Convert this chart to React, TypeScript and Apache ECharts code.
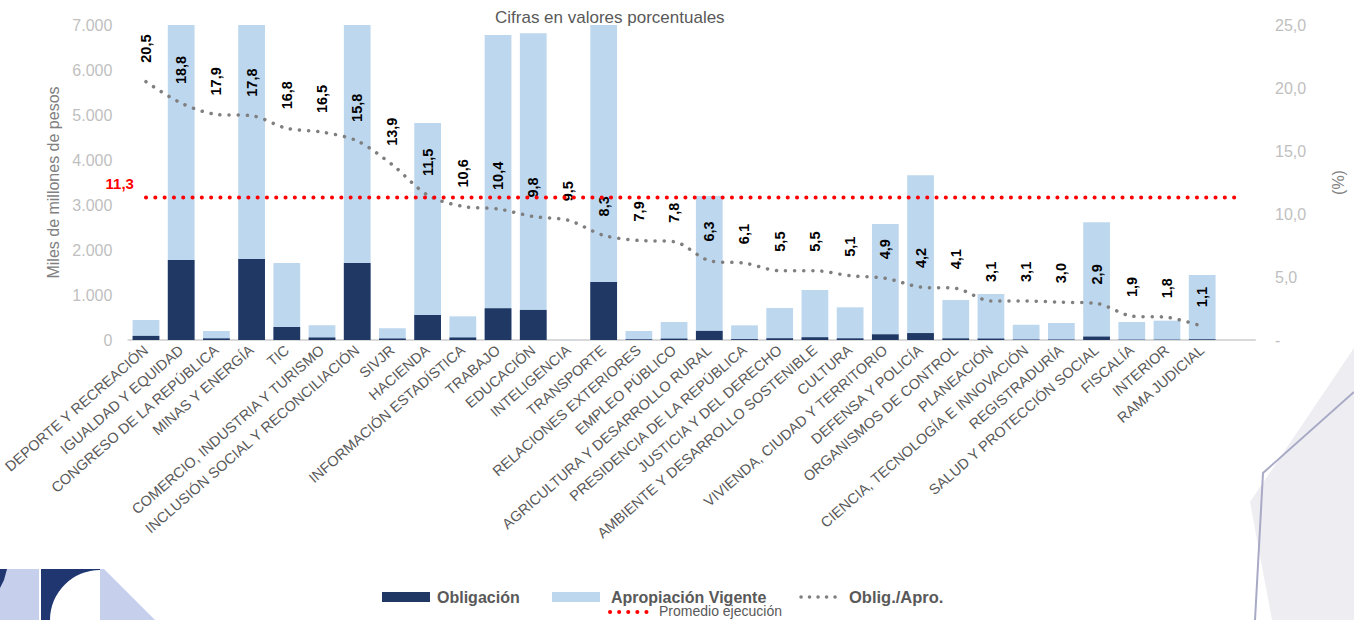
import React, { useEffect, useRef } from 'react';
import * as echarts from 'echarts';

const categories = [
  'DEPORTE Y RECREACIÓN', 'IGUALDAD Y EQUIDAD', 'CONGRESO DE LA REPÚBLICA', 'MINAS Y ENERGÍA', 'TIC',
  'COMERCIO, INDUSTRIA Y TURISMO', 'INCLUSIÓN SOCIAL Y RECONCILIACIÓN', 'SIVJR', 'HACIENDA',
  'INFORMACIÓN ESTADÍSTICA', 'TRABAJO', 'EDUCACIÓN', 'INTELIGENCIA', 'TRANSPORTE',
  'RELACIONES EXTERIORES', 'EMPLEO PÚBLICO', 'AGRICULTURA Y DESARROLLO RURAL',
  'PRESIDENCIA DE LA REPÚBLICA', 'JUSTICIA Y DEL DERECHO', 'AMBIENTE Y DESARROLLO SOSTENIBLE',
  'CULTURA', 'VIVIENDA, CIUDAD Y TERRITORIO', 'DEFENSA Y POLICÍA', 'ORGANISMOS DE CONTROL',
  'PLANEACIÓN', 'CIENCIA, TECNOLOGÍA E INNOVACIÓN', 'REGISTRADURÍA', 'SALUD Y PROTECCIÓN SOCIAL',
  'FISCALÍA', 'INTERIOR', 'RAMA JUDICIAL', '',
];

const apropiacion = [
  444, 9460, 200, 10110, 1711, 326, 10830, 259, 4822, 526, 6778, 6815, 5, 15530, 200, 400,
  3200, 326, 711, 1111, 726, 2578, 3659, 889, 1022, 341, 378, 2615, 400, 430, 1444,
];

const obligacion = [
  91, 1778, 36, 1800, 288, 54, 1711, 36, 555, 56, 705, 668, 0.5, 1289, 16, 31,
  202, 20, 39, 61, 37, 126, 154, 36, 32, 11, 11, 76, 8, 8, 16,
];

const ejecucion = [
  20.5, 18.8, 17.9, 17.8, 16.8, 16.5, 15.8, 13.9, 11.5, 10.6, 10.4, 9.8, 9.5, 8.3, 7.9, 7.8,
  6.3, 6.1, 5.5, 5.5, 5.1, 4.9, 4.2, 4.1, 3.1, 3.1, 3.0, 2.9, 1.9, 1.8, 1.1,
];

const promedio = 11.3;

const seriesNames = ['Obligación', 'Apropiación Vigente', 'Oblig./Apro.', 'Promedio ejecución'];

const NAVY = '#203864';
const LIGHT = '#bdd7ee';
const GRAY_LINE = '#7f7f7f';
const RED = '#ff0000';
const FONT = 'Liberation Sans, Arial, sans-serif';
const fmtPct = (v: number) => v.toFixed(1).replace('.', ',');
const fmtThousands = (v: number) => String(v).replace(/\B(?=(\d{3})+(?!\d))/g, '.');

export default function App() {
  const ref = useRef<HTMLDivElement>(null);

  useEffect(() => {
    const chart = echarts.init(ref.current!, null, { renderer: 'svg' });

    const promedioData = categories.map((_, i) =>
      i === 0
        ? {
            value: promedio,
            label: {
              show: true,
              position: 'left',
              distance: 11,
              offset: [0, -14],
              formatter: fmtPct(promedio),
              color: RED,
              fontWeight: 'bold',
              fontSize: 15,
              fontFamily: FONT,
            },
          }
        : promedio
    );

    const legendText = (text: string, x: number, y: number, bold: boolean, size: number) => ({
      type: 'text',
      x,
      y,
      silent: true,
      style: {
        text,
        fill: '#595959',
        fontSize: size,
        fontWeight: bold ? 'bold' : 'normal',
        fontFamily: FONT,
        verticalAlign: 'middle',
        align: 'left',
      },
    });

    const option: any = {
      animation: false,
      backgroundColor: '#ffffff',
      textStyle: { fontFamily: FONT },
      title: {
        text: 'Cifras en valores porcentuales',
        left: 490,
        top: 4,
        textStyle: { fontSize: 17, fontWeight: 'normal', color: '#595959', fontFamily: FONT },
      },
      grid: { left: 127, right: 84, top: 25, bottom: 280 },
      xAxis: {
        type: 'category',
        data: categories,
        axisLine: { lineStyle: { color: '#d9d9d9', width: 2 } },
        axisTick: { show: false },
        axisLabel: {
          interval: 0,
          rotate: 41,
          fontSize: 14.5,
          color: '#595959',
          margin: 8,
          fontFamily: FONT,
        },
      },
      yAxis: [
        {
          type: 'value',
          min: 0,
          max: 7000,
          interval: 1000,
          splitLine: { show: false },
          axisLine: { show: false },
          axisTick: { show: false },
          axisLabel: {
            formatter: (v: number) => fmtThousands(v),
            color: '#bfbfbf',
            fontSize: 16,
            margin: 16,
            fontFamily: FONT,
          },
          name: 'Miles de millones de pesos',
          nameLocation: 'middle',
          nameGap: 65,
          nameTextStyle: { color: '#808080', fontSize: 16, fontFamily: FONT },
        },
        {
          type: 'value',
          position: 'right',
          min: 0,
          max: 25,
          interval: 5,
          splitLine: { show: false },
          axisLine: { show: false },
          axisTick: { show: false },
          axisLabel: {
            formatter: (v: number) => (v === 0 ? '-' : fmtPct(v)),
            color: '#bfbfbf',
            fontSize: 16,
            margin: 20,
            fontFamily: FONT,
          },
          name: '(%)',
          nameLocation: 'middle',
          nameGap: 75,
          nameTextStyle: { color: '#808080', fontSize: 16, fontFamily: FONT },
        },
      ],
      series: [
        {
          name: seriesNames[1],
          type: 'bar',
          data: apropiacion,
          barCategoryGap: '24%',
          barGap: '-100%',
          clip: true,
          itemStyle: { color: LIGHT },
          emphasis: { disabled: true },
        },
        {
          name: seriesNames[0],
          type: 'bar',
          data: obligacion,
          barCategoryGap: '24%',
          barGap: '-100%',
          clip: true,
          itemStyle: { color: NAVY },
          emphasis: { disabled: true },
        },
        {
          name: seriesNames[2],
          type: 'line',
          yAxisIndex: 1,
          data: ejecucion,
          smooth: 0.3,
          symbol: 'circle',
          symbolSize: 2,
          itemStyle: { color: 'rgba(0,0,0,0)' },
          lineStyle: { color: GRAY_LINE, width: 3.5, type: [0.1, 9], cap: 'round' },
          label: {
            show: true,
            position: 'top',
            rotate: 90,
            align: 'left',
            verticalAlign: 'middle',
            distance: 18,
            formatter: (p: any) => fmtPct(p.value),
            color: '#000000',
            fontWeight: 'bold',
            fontSize: 14.5,
            fontFamily: FONT,
          },
          emphasis: { disabled: true },
          z: 5,
        },
        {
          name: seriesNames[3],
          type: 'line',
          yAxisIndex: 1,
          data: promedioData,
          symbol: 'circle',
          symbolSize: 2,
          itemStyle: { color: 'rgba(0,0,0,0)' },
          lineStyle: { color: RED, width: 4, type: [0.1, 9.2], cap: 'round' },
          emphasis: { disabled: true },
          z: 6,
        },
      ],
      graphic: [
        // legend (drawn by hand so the dotted icons keep their weight)
        { type: 'rect', silent: true, shape: { x: 382, y: 592, width: 48, height: 10 }, style: { fill: NAVY } },
        legendText(seriesNames[0], 437, 597, true, 16),
        { type: 'rect', silent: true, shape: { x: 552, y: 592, width: 48, height: 10 }, style: { fill: LIGHT } },
        legendText(seriesNames[1], 611, 597, true, 16),
        {
          type: 'line',
          silent: true,
          shape: { x1: 801, y1: 597, x2: 843, y2: 597 },
          style: { stroke: GRAY_LINE, lineWidth: 3.5, lineDash: [0.1, 8.4], lineCap: 'round' },
        },
        legendText(seriesNames[2], 849, 597, true, 16.5),
        {
          type: 'line',
          silent: true,
          shape: { x1: 610, y1: 612, x2: 654, y2: 612 },
          style: { stroke: RED, lineWidth: 4, lineDash: [0.1, 9], lineCap: 'round' },
        },
        legendText(seriesNames[3], 659, 611, false, 14),
        // right-side decoration
        {
          type: 'polygon',
          z: -10,
          shape: { points: [[1354, 348], [1250, 502], [1272, 620], [1354, 620]] },
          style: { fill: '#ededf2' },
          silent: true,
        },
        {
          type: 'polyline',
          z: -9,
          shape: { points: [[1354, 392], [1263, 473], [1255, 620]] },
          style: { stroke: '#a8aac6', lineWidth: 2, fill: 'none' },
          silent: true,
        },
        // bottom-left logo shapes
        {
          type: 'rect',
          z: -10,
          shape: { x: 0, y: 569, width: 39, height: 51 },
          style: { fill: '#c6d0ec' },
          silent: true,
        },
        {
          type: 'polygon',
          z: -9,
          shape: { points: [[0, 569], [7, 569], [4, 580], [0, 588]] },
          style: { fill: '#1f3670' },
          silent: true,
        },
        {
          type: 'rect',
          z: -10,
          shape: { x: 41, y: 569, width: 59, height: 51 },
          style: { fill: '#1f3670' },
          silent: true,
        },
        {
          type: 'sector',
          z: -9,
          shape: { cx: 100, cy: 620, r: 50, startAngle: Math.PI, endAngle: Math.PI * 1.5 },
          style: { fill: '#ffffff' },
          silent: true,
        },
        {
          type: 'polygon',
          z: -10,
          shape: { points: [[100, 569], [104, 569], [155, 620], [100, 620]] },
          style: { fill: '#c6d0ec' },
          silent: true,
        },
      ],
    };

    chart.setOption(option);
    return () => chart.dispose();
  }, []);

  return (
    <div
      ref={ref}
      style={{ position: 'fixed', left: 0, top: 0, width: 1354, height: 620, background: '#fff' }}
    />
  );
}
